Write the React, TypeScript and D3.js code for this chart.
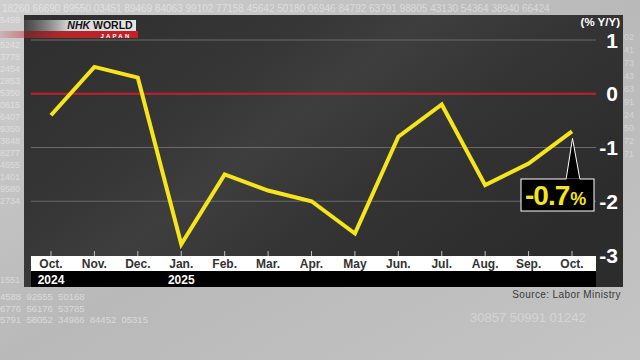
import React from "react";
import * as d3 from "d3";

const months = ["Oct.", "Nov.", "Dec.", "Jan.", "Feb.", "Mar.", "Apr.", "May", "Jun.", "Jul.", "Aug.", "Sep.", "Oct."];
const years = ["2024", "", "", "2025", "", "", "", "", "", "", "", "", ""];
const values = [-0.4, 0.5, 0.3, -2.8, -1.5, -1.8, -2.0, -2.6, -0.8, -0.2, -1.7, -1.3, -0.7];
const yTicks = [1, 0, -1, -2, -3];
const gridTicks = [1, -1, -2];
const unitLabel = "(% Y/Y)";
const calloutValue = "-0.7";
const calloutUnit = "%";
const sourceText = "Source: Labor Ministry";
const topNumbers = "18260 66690 89550 03451 89469 84063 99102 77158 45642 50180 06946 84792 63791 98805 43130 54364 38940 66424";
const leftNumbers = ["5499", "5242", "3778", "2454", "2853", "5350", "0615", "6407", "9350", "3848", "8277", "4655", "1401", "9580", "2734", "1551"];
const leftNumberY = [23, 48, 60, 72, 84, 96, 108, 120, 132, 144, 156, 168, 180, 192, 204, 283];
const rightNumbers = ["0255", "4149", "7325", "4347", "6314", "9101", "2456", "5092", "7298", "7140"];
const bottomNumbers = ["4588  92555  50168", "6776  56176  53785", "5791  58052  34986  84452  05315"];

const W = 640;
const H = 360;
const plotLeft = 31;
const plotRight = 596;

export default function App() {
  const x = d3.scalePoint<number>().domain(d3.range(months.length)).range([51, 572]);
  const y = d3.scaleLinear().domain([-3, 1]).range([255, 40]);
  const line = d3
    .line<number>()
    .x((_, i) => x(i) as number)
    .y((d) => y(d))
    .curve(d3.curveLinear);

  const last = values.length - 1;
  const px = x(last) as number;
  const py = y(values[last]);
  const boxX = 521;
  const boxY = 179;
  const boxW = 73;
  const boxH = 32;

  const font = "'Liberation Sans', Arial, Helvetica, sans-serif";

  return (
    <svg
      width={W}
      height={H}
      viewBox={`0 0 ${W} ${H}`}
      style={{ position: "absolute", left: 0, top: 0, display: "block" }}
      fontFamily={font}
    >
      <defs>
        <linearGradient id="outer" x1="0" y1="0" x2="1" y2="1">
          <stop offset="0" stopColor="#cfcfcf" />
          <stop offset="0.5" stopColor="#b9b9b9" />
          <stop offset="1" stopColor="#c4c4c4" />
        </linearGradient>
        <linearGradient id="panel" x1="0" y1="0" x2="1" y2="0.6">
          <stop offset="0" stopColor="#2e2e2e" />
          <stop offset="0.35" stopColor="#363636" />
          <stop offset="0.5" stopColor="#3e3e3e" />
          <stop offset="0.7" stopColor="#343434" />
          <stop offset="1" stopColor="#2c2c2c" />
        </linearGradient>
        <linearGradient id="redband" x1="0" y1="0" x2="1" y2="0">
          <stop offset="0" stopColor="#c0262b" stopOpacity="0.15" />
          <stop offset="0.45" stopColor="#c0262b" stopOpacity="0.9" />
          <stop offset="1" stopColor="#c81e25" />
        </linearGradient>
        <linearGradient id="logoBox" x1="0" y1="0" x2="1" y2="0">
          <stop offset="0" stopColor="#9a9a9a" stopOpacity="0.2" />
          <stop offset="0.4" stopColor="#d8d8d8" />
          <stop offset="1" stopColor="#e6e6e6" />
        </linearGradient>
      </defs>

      {/* outer background */}
      <rect x={0} y={0} width={W} height={H} fill="url(#outer)" />
      <text x={2} y={12} fontSize={10} fill="#ffffff" opacity={0.4}>
        {topNumbers}
      </text>
      {leftNumbers.map((n, i) => (
        <text key={`ln${i}`} x={0} y={leftNumberY[i]} fontSize={9} fill="#ffffff" opacity={0.4}>
          {n}
        </text>
      ))}
      {rightNumbers.map((n, i) => (
        <text key={`rn${i}`} x={624} y={40 + i * 13} fontSize={9} fill="#ffffff" opacity={0.35}>
          {n.slice(0, 2)}
        </text>
      ))}
      {bottomNumbers.map((row, i) => (
        <text
          key={`bn${i}`}
          x={0}
          y={300 + i * 11.5}
          fontSize={9.5}
          fill="#ffffff"
          opacity={0.45}
          style={{ whiteSpace: "pre" }}
        >
          {row}
        </text>
      ))}
      <text x={470} y={322} fontSize={13} fill="#ffffff" opacity={0.3}>
        30857 50991 01242
      </text>

      {/* dark panel */}
      <rect x={24} y={15} width={599} height={272} fill="url(#panel)" />

      {/* NHK logo */}
      <rect x={24} y={20} width={112} height={11} fill="url(#logoBox)" />
      <text
        x={100}
        y={29}
        fontSize={10.5}
        fontWeight="bold"
        fill="#111"
        textAnchor="middle"
      >
        <tspan fontWeight="900" fontStyle="italic">NHK</tspan> WORLD
      </text>
      <rect x={0} y={31} width={138} height={7} fill="url(#redband)" />
      <text x={116} y={37.5} fontSize={6} fontWeight="bold" fill="#ffffff" textAnchor="middle" letterSpacing={2.2}>
        JAPAN
      </text>

      {/* gridlines */}
      {gridTicks.map((t) => (
        <line
          key={`g${t}`}
          x1={plotLeft}
          x2={plotRight}
          y1={y(t)}
          y2={y(t)}
          stroke="#6a6a6a"
          strokeWidth={1}
        />
      ))}
      <line x1={plotLeft} x2={plotRight} y1={y(0)} y2={y(0)} stroke="#c4202a" strokeWidth={2} />

      {/* y tick labels */}
      {yTicks.map((t) => (
        <text
          key={`yt${t}`}
          x={618}
          y={y(t) + 7.5}
          fontSize={21}
          fontWeight="bold"
          fill="#ffffff"
          textAnchor="end"
        >
          {t < 0 ? `-${Math.abs(t)}` : `${t}`}
        </text>
      ))}
      <text x={620} y={26} fontSize={11.5} fontWeight="bold" fill="#ffffff" textAnchor="end">
        {unitLabel}
      </text>

      {/* x axis bands */}
      <rect x={plotLeft} y={256} width={plotRight - plotLeft} height={15} fill="#ffffff" />
      <rect x={plotLeft} y={271} width={plotRight - plotLeft} height={16} fill="#000000" />
      {months.map((m, i) => (
        <g key={`m${i}`}>
          <line
            x1={x(i) as number}
            x2={x(i) as number}
            y1={251}
            y2={256}
            stroke="#bdbdbd"
            strokeWidth={1}
          />
          <text
            x={x(i) as number}
            y={268}
            fontSize={12}
            fontWeight="bold"
            fill="#333333"
            textAnchor="middle"
          >
            {m}
          </text>
          {years[i] ? (
            <text
              x={x(i) as number}
              y={283.5}
              fontSize={12}
              fontWeight="bold"
              fill="#ffffff"
              textAnchor="middle"
            >
              {years[i]}
            </text>
          ) : null}
        </g>
      ))}

      {/* data line */}
      <path
        d={line(values) || ""}
        fill="none"
        stroke="#f6e51b"
        strokeWidth={4}
        strokeLinejoin="miter"
        strokeLinecap="butt"
      />

      {/* callout */}
      <path
        d={`M${px - 6},${boxY + 1} L${px + 0.5},${py + 7} L${px + 8},${boxY + 1} Z`}
        fill="#000000"
        stroke="#ffffff"
        strokeWidth={1}
      />
      <rect x={boxX} y={boxY} width={boxW} height={boxH} fill="#000000" stroke="#ffffff" strokeWidth={1} />
      <rect x={px - 5.5} y={boxY - 0.5} width={13} height={2} fill="#000000" />
      <text x={boxX + 4} y={boxY + 26} fontSize={28} fontWeight="bold" fill="#f6e51b" letterSpacing={-1}>
        {calloutValue}
        <tspan fontSize={18} dx={1}>
          {calloutUnit}
        </tspan>
      </text>

      {/* source */}
      <text x={621} y={298} fontSize={10} fill="#3a3a3a" textAnchor="end" letterSpacing={0.4}>
        {sourceText}
      </text>
    </svg>
  );
}
